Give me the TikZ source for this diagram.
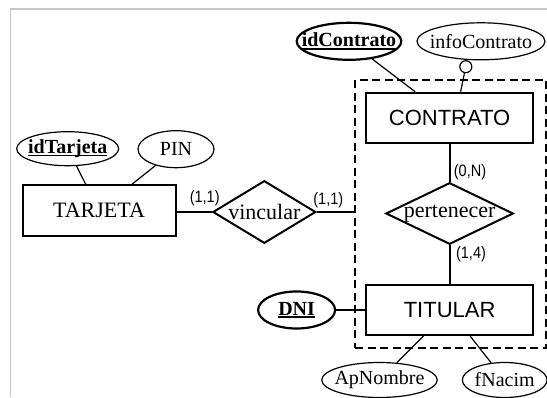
\documentclass[tikz,border=0pt]{standalone}
\usepackage{fontspec}
\setmainfont{Liberation Serif}
\setsansfont{Liberation Sans}
\newfontfamily\cardfont[FakeStretch=0.88]{Liberation Sans}
\usetikzlibrary{shapes.geometric}
\newsavebox\keybox
\newcommand{\keyattr}[1]{\sbox\keybox{\bfseries #1}\rlap{\rule[-2.6pt]{\wd\keybox}{1.6pt}}\usebox\keybox}
\newcommand{\attrfont}{\fontsize{20}{22}\selectfont}
\newcommand{\relfont}{\fontsize{22}{24}\selectfont}
\tikzset{
  entity/.style={draw, rectangle, line width=2pt, inner sep=0pt,
    font=\sffamily\fontsize{22}{24}\selectfont},
  serifentity/.style={entity, font=\rmfamily\fontsize{22}{24}\selectfont},
  attr/.style={draw, ellipse, line width=1.2pt, inner sep=0pt, minimum height=37pt},
  keyattrib/.style={attr, line width=2.2pt},
  rel/.style={draw, diamond, line width=2pt, inner sep=0pt},
  card/.style={inner sep=0pt, font=\cardfont\fontsize{16.5}{18}\selectfont},
  conn/.style={line width=1.2pt},
  relconn/.style={line width=2pt},
  cluster/.style={draw, rectangle, line width=2pt, dash pattern=on 8pt off 4.5pt, inner sep=0pt},
  frameline/.style={draw=black!22, line width=1.5pt}
}
\begin{document}
\begin{tikzpicture}[x=1pt, y=-1pt]
\useasboundingbox (0,0) rectangle (547,397);
\draw[frameline] (10.5,397) -- (10.5,9) -- (547,9);

% dashed aggregation box
\node[cluster, minimum width=190.8pt, minimum height=268.3pt] (box) at (450.6,214.2) {};

% entities
\node[serifentity, minimum width=153pt, minimum height=50.4pt] (tarj) at (99,210.5) {TARJETA};
\node[entity, minimum width=166.4pt, minimum height=50.6pt] (cont) at (449.6,118) {CONTRATO};
\node[entity, minimum width=166.4pt, minimum height=50pt] (tit) at (449.6,310) {TITULAR};

% relationships
\node[rel, minimum width=103pt, minimum height=62.6pt, label={center:{\relfont vincular}}] (vinc) at (264.3,212) {};
\node[rel, minimum width=127.4pt, minimum height=61.6pt, label={center:{\relfont pertenecer}}] (pert) at (449.6,213.5) {};

% attributes
\node[attr, minimum width=102pt, minimum height=34pt, label={center:{\attrfont\keyattr{idTarjeta}}}] (idt) at (67.7,148.7) {};
\node[attr, minimum width=76pt, label={center:{\attrfont PIN}}] (pin) at (176,149.2) {};
\node[keyattrib, minimum width=104.7pt, label={center:{\attrfont\keyattr{idContrato}}}] (idc) at (349,41.3) {};
\node[attr, minimum width=128pt, label={center:{\attrfont infoContrato}}] (info) at (481,41.3) {};
\node[keyattrib, minimum width=77pt, label={center:{\attrfont\keyattr{DNI}}}] (dni) at (296.6,310) {};
\node[attr, minimum width=115.5pt, minimum height=35pt, label={center:{\attrfont ApNombre}}] (apn) at (379.5,380) {};
\node[attr, minimum width=84.7pt, minimum height=35pt, label={center:{\attrfont fNacim}}] (fna) at (504.7,380) {};
\node[draw, circle, line width=1.2pt, minimum size=12pt, inner sep=0pt] (oc) at (465.8,66.7) {};

% cardinalities
\node[card] (c1) at (204.7,198.5) {(1,1)};
\node[card] (c2) at (328.3,200) {(1,1)};
\node[card] (c3) at (470,172.5) {(0,N)};
\node[card] (c4) at (471,254) {(1,4)};

% connectors
\draw[relconn] (vinc.west) -- (vinc.west -| tarj.east);
\draw[relconn] (vinc.east) -- (vinc.east -| box.west);
\draw[relconn] (cont) -- (pert);
\draw[relconn] (pert) -- (tit);
\draw[conn] (idt) -- (tarj);
\draw[conn] (pin) -- (tarj);
\draw[conn] (idc) -- (cont);
\draw[conn] (oc) -- ([xshift=11pt]cont.north);
\draw[conn] (dni) -- (tit);
\draw[conn] (apn) -- (tit);
\draw[conn] (fna) -- (tit);
\end{tikzpicture}
\end{document}
